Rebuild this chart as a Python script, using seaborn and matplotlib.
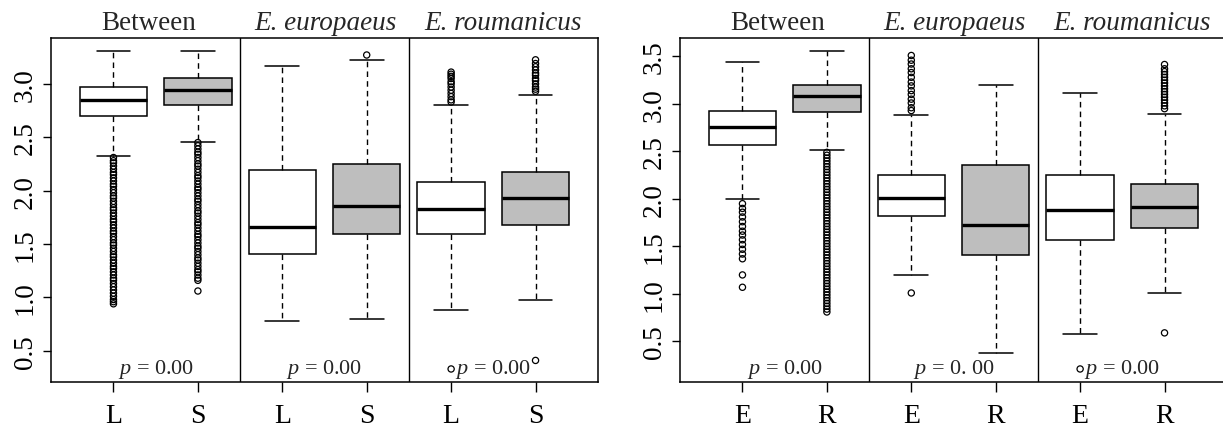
import numpy as np
import pandas as pd
import matplotlib
matplotlib.use("Agg")
import matplotlib.pyplot as plt
from matplotlib.transforms import blended_transform_factory
import seaborn as sns

# ---------------- data ----------------
sections = ["Between", "E. europaeus", "E. roumanicus"]
section_italic = [False, True, True]

# left chart (L / S)
left_labels = ["L", "S", "L", "S", "L", "S"]
left_whislo = [2.32, 2.46, 0.78, 0.80, 0.88, 0.98]
left_q1 = [2.70, 2.80, 1.41, 1.59, 1.59, 1.68]
left_med = [2.85, 2.94, 1.66, 1.86, 1.83, 1.93]
left_q3 = [2.975, 3.05, 2.19, 2.245, 2.08, 2.17]
left_whishi = [3.31, 3.31, 3.17, 3.22, 2.80, 2.90]
left_out_1 = [2.31, 2.28, 2.26, 2.23, 2.20, 2.17, 2.15, 2.12, 2.09, 2.06, 2.04, 2.01,
              1.98, 1.95, 1.93, 1.90, 1.87, 1.84, 1.82, 1.79, 1.76, 1.73, 1.71, 1.68,
              1.65, 1.62, 1.60, 1.57, 1.54, 1.51, 1.49, 1.46, 1.43, 1.40, 1.38, 1.35,
              1.32, 1.29, 1.27, 1.24, 1.21, 1.18, 1.16, 1.13, 1.10, 1.07, 1.04, 1.01,
              0.98, 0.96, 0.94]
left_out_2 = [2.45, 2.42, 2.39, 2.36, 2.34, 2.31, 2.28, 2.25, 2.23, 2.20, 2.17, 2.14,
              2.12, 2.09, 2.06, 2.03, 2.01, 1.98, 1.95, 1.92, 1.90, 1.87, 1.84, 1.81,
              1.79, 1.76, 1.73, 1.70, 1.68, 1.65, 1.62, 1.59, 1.57, 1.54, 1.51, 1.48,
              1.46, 1.43, 1.40, 1.37, 1.35, 1.32, 1.29, 1.26, 1.24, 1.21, 1.18, 1.16,
              1.06]
left_out_3 = []
left_out_4 = [3.27]
left_out_5 = [3.11, 3.09, 3.07, 3.05, 3.02, 3.00, 2.97, 2.94, 2.91, 2.88, 2.85, 2.83, 0.33]
left_out_6 = [3.225, 3.19, 3.16, 3.13, 3.10, 3.08, 3.05, 3.03, 3.00, 2.97, 2.95, 2.93, 0.41]
left_pvals = ["0.00", "0.00", "0.00"]

# right chart (E / R)
right_labels = ["E", "R", "E", "R", "E", "R"]
right_whislo = [2.00, 2.52, 1.20, 0.38, 0.58, 1.01]
right_q1 = [2.57, 2.92, 1.82, 1.41, 1.57, 1.69]
right_med = [2.76, 3.08, 2.01, 1.725, 1.88, 1.92]
right_q3 = [2.93, 3.20, 2.25, 2.36, 2.25, 2.16]
right_whishi = [3.44, 3.56, 2.88, 3.20, 3.12, 2.89]
right_out_1 = [1.95, 1.90, 1.86, 1.81, 1.76, 1.71, 1.66, 1.62, 1.57, 1.52, 1.47, 1.42,
               1.37, 1.20, 1.07]
right_out_2 = [2.49, 2.46, 2.43, 2.40, 2.37, 2.34, 2.31, 2.28, 2.25, 2.22, 2.19, 2.16,
               2.13, 2.10, 2.07, 2.04, 2.01, 1.98, 1.95, 1.92, 1.89, 1.86, 1.83, 1.80,
               1.77, 1.74, 1.71, 1.68, 1.65, 1.62, 1.59, 1.56, 1.53, 1.50, 1.47, 1.44,
               1.41, 1.38, 1.35, 1.32, 1.29, 1.26, 1.23, 1.20, 1.17, 1.14, 1.11, 1.08,
               1.05, 1.02, 0.99, 0.96, 0.93, 0.90, 0.87, 0.84, 0.81]
right_out_3 = [3.51, 3.46, 3.42, 3.37, 3.33, 3.28, 3.23, 3.19, 3.14, 3.10, 3.05, 3.01,
               2.96, 2.93, 1.01]
right_out_4 = []
right_out_5 = [0.21]
right_out_6 = [3.415, 3.37, 3.34, 3.31, 3.28, 3.25, 3.22, 3.19, 3.16, 3.13, 3.10, 3.07,
               3.04, 3.01, 2.98, 2.95, 0.59]
right_pvals = ["0.00", "0. 00", "0.00"]

# ---------------- style ----------------
sns.set_style("ticks")
plt.rcParams["font.family"] = ["Liberation Serif", "DejaVu Serif"]
plt.rcParams["mathtext.fontset"] = "custom"
plt.rcParams["mathtext.rm"] = "Liberation Serif"
plt.rcParams["mathtext.it"] = "Liberation Serif:italic"

W, H = 1223, 427
fig = plt.figure(figsize=(W / 100, H / 100), dpi=100)
bottom = (H - 382.7) / H
height = 343.7 / H
ax_l = fig.add_axes([51 / W, bottom, 547 / W, height])
ax_r = fig.add_axes([680 / W, bottom, 547 / W, height])

fill_colors = ["white", "#bebebe"] * 3


def draw_panel(ax, labels, lo, q1, med, q3, hi, outs, pvals):
    positions = np.arange(1, len(labels) + 1)
    stats = []
    for i in range(len(labels)):
        stats.append(dict(med=med[i], q1=q1[i], q3=q3[i], whislo=lo[i],
                          whishi=hi[i], fliers=[]))
    bp = ax.bxp(stats, positions=positions, widths=0.8, capwidths=0.4,
                showfliers=False, patch_artist=True,
                boxprops=dict(edgecolor="black", linewidth=1.1),
                medianprops=dict(color="black", linewidth=2.4),
                whiskerprops=dict(color="black", linewidth=1.0, linestyle=(0, (4, 3))),
                capprops=dict(color="black", linewidth=1.1))
    for patch, c in zip(bp["boxes"], fill_colors):
        patch.set_facecolor(c)

    rows = []
    for p, vals in zip(positions, outs):
        for v in vals:
            rows.append((p, v))
    df = pd.DataFrame(rows, columns=["pos", "value"])
    sns.scatterplot(data=df, x="pos", y="value", ax=ax, marker="o",
                    facecolor="none", edgecolor="black", linewidth=0.9,
                    s=20, legend=False, zorder=4)

    allv = lo + hi + [v for o in outs for v in o]
    vmin, vmax = min(allv), max(allv)
    pad = 0.04 * (vmax - vmin)
    ax.set_ylim(vmin - pad, vmax + pad)
    ax.set_xlim(0.26, 6.74)
    ax.set_xlabel("")
    ax.set_ylabel("")

    ax.set_xticks(positions)
    ax.set_xticklabels(labels)
    yt = np.arange(0.5, vmax + 0.001, 0.5)
    ax.set_yticks(yt)
    ax.set_yticklabels([f"{t:.1f}" for t in yt], rotation=90, va="center")
    ax.tick_params(axis="x", length=7.5, width=1.0, pad=8, labelsize=20,
                   direction="out", colors="black")
    ax.tick_params(axis="y", length=5.5, width=1.0, pad=4, labelsize=19.5,
                   direction="out", colors="black")
    for s in ax.spines.values():
        s.set_visible(True)
        s.set_linewidth(1.1)
        s.set_color("black")

    for xd in (2.5, 4.5):
        ax.axvline(xd, color="black", linewidth=1.0, zorder=1)

    tr = blended_transform_factory(ax.transData, ax.transAxes)
    title_x = [1.42, 3.51, 5.62]
    for tx, name, it in zip(title_x, sections, section_italic):
        ax.text(tx, 1.026, name, transform=tr, ha="center", va="baseline",
                fontsize=19.5, fontstyle="italic" if it else "normal", clip_on=False)
    for px, pv in zip([1.5, 3.5, 5.5], pvals):
        ax.text(px, 0.025, r"$p$ = " + pv, transform=tr, ha="center",
                va="baseline", fontsize=16, zorder=5)


draw_panel(ax_l, left_labels, left_whislo, left_q1, left_med, left_q3, left_whishi,
           [left_out_1, left_out_2, left_out_3, left_out_4, left_out_5, left_out_6],
           left_pvals)
draw_panel(ax_r, right_labels, right_whislo, right_q1, right_med, right_q3, right_whishi,
           [right_out_1, right_out_2, right_out_3, right_out_4, right_out_5, right_out_6],
           right_pvals)

fig.savefig("out.png", dpi=100, facecolor="white")
